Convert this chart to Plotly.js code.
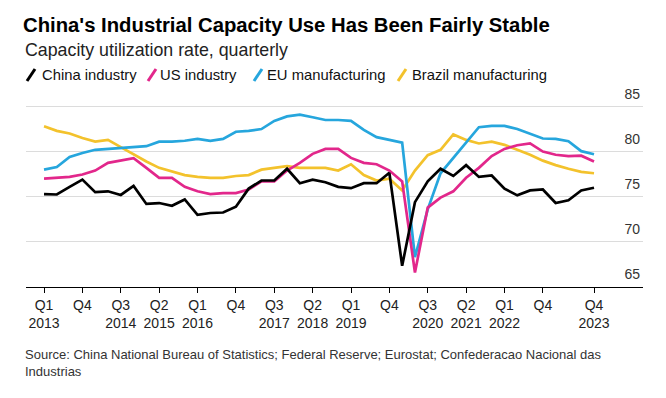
<!DOCTYPE html>
<html>
<head>
<meta charset="utf-8">
<script src="https://cdn.plot.ly/plotly-3.0.1.min.js"></script>
<style>html,body{margin:0;padding:0;background:#fff;}#chart{width:666px;height:398px;}</style>
</head>
<body>
<div id="chart"></div>
<script>
const quarters = [
  "Q1 2013","Q2 2013","Q3 2013","Q4 2013",
  "Q1 2014","Q2 2014","Q3 2014","Q4 2014",
  "Q1 2015","Q2 2015","Q3 2015","Q4 2015",
  "Q1 2016","Q2 2016","Q3 2016","Q4 2016",
  "Q1 2017","Q2 2017","Q3 2017","Q4 2017",
  "Q1 2018","Q2 2018","Q3 2018","Q4 2018",
  "Q1 2019","Q2 2019","Q3 2019","Q4 2019",
  "Q1 2020","Q2 2020","Q3 2020","Q4 2020",
  "Q1 2021","Q2 2021","Q3 2021","Q4 2021",
  "Q1 2022","Q2 2022","Q3 2022","Q4 2022",
  "Q1 2023","Q2 2023","Q3 2023","Q4 2023"
];

const chinaIndustry = [
  75.3, 75.25, 76.1, 76.9,
  75.5, 75.6, 75.2, 76.2,
  74.2, 74.3, 74.0, 74.7,
  73.0, 73.2, 73.25, 73.9,
  75.9, 76.8, 76.8, 78.1,
  76.5, 76.9, 76.6, 76.1,
  75.95, 76.5, 76.5, 77.65,
  67.35, 74.4, 76.7, 78.1,
  77.3, 78.5, 77.2, 77.35,
  75.9, 75.15, 75.7, 75.8,
  74.3, 74.6, 75.7, 76.0
];

const usIndustry = [
  77.0, 77.06, 77.2, 77.46,
  77.9, 78.75, 79.0, 79.26,
  78.2, 77.1, 77.1, 76.1,
  75.6, 75.3, 75.4, 75.4,
  75.8, 76.7, 76.7, 77.9,
  78.75, 79.75, 80.3, 80.3,
  79.3, 78.75, 78.6, 77.9,
  76.7, 66.6, 73.8, 74.9,
  75.6, 77.1, 78.2, 79.5,
  80.3, 80.7, 80.9, 80.0,
  79.65, 79.5, 79.55, 78.9
];

const euManufacturing = [
  78.0, 78.3, 79.4, 79.85,
  80.2, 80.3, 80.4, 80.5,
  80.6, 81.1, 81.1, 81.2,
  81.4, 81.2, 81.4, 82.2,
  82.3, 82.5, 83.4, 83.9,
  84.1, 83.8, 83.5, 83.5,
  83.4, 82.4, 81.6, 81.3,
  81.0, 68.3, 73.6, 77.6,
  79.3, 80.9, 82.7, 82.85,
  82.85, 82.5, 81.95, 81.45,
  81.4, 81.15, 80.05, 79.7
];

const brazilManufacturing = [
  82.8, 82.3, 82.0, 81.5,
  81.1, 81.3, 80.5, 79.7,
  78.9, 78.2, 77.8, 77.4,
  77.2, 77.1, 77.1, 77.3,
  77.4, 78.0, 78.2, 78.4,
  78.2, 78.2, 78.2, 77.9,
  78.6, 77.4, 76.8, 77.0,
  75.7, 77.9, 79.6, 80.2,
  81.9, 81.3, 80.9, 81.1,
  80.75, 80.2, 79.65, 79.0,
  78.5, 78.1, 77.75, 77.6
];

const seriesNames = ["China industry", "US industry", "EU manufacturing", "Brazil manufacturing"];
const seriesColors = ["#000000", "#e2278b", "#26a6dd", "#f3c22c"];

const tickQuarters = ["Q1 2013","Q4 2013","Q3 2014","Q2 2015","Q1 2016","Q4 2016","Q3 2017","Q2 2018","Q1 2019","Q4 2019","Q3 2020","Q2 2021","Q1 2022","Q4 2022","Q4 2023"];
const tickLabels = ["Q1<br>2013","Q4","Q3<br>2014","Q2<br>2015","Q1<br>2016","Q4","Q3<br>2017","Q2<br>2018","Q1<br>2019","Q4","Q3<br>2020","Q2<br>2021","Q1<br>2022","Q4","Q4<br>2023"];
const yTicks = [65, 70, 75, 80, 85];

const titleText = "China's Industrial Capacity Use Has Been Fairly Stable";
const subtitleText = "Capacity utilization rate, quarterly";
const sourceText = "Source: China National Bureau of Statistics; Federal Reserve; Eurostat; Confederacao Nacional das<br>Industrias";

const FONT = "Liberation Sans, Arial, Helvetica, sans-serif";

// layout geometry (pixels)
const W = 666, H = 398;
const M = {l: 26, r: 23, t: 83, b: 111};
const PW = W - M.l - M.r, PH = H - M.t - M.b;
const px = x => (x - M.l) / PW;
const py = y => (H - M.b - y) / PH;

const allSeries = [chinaIndustry, usIndustry, euManufacturing, brazilManufacturing];
const traces = allSeries.map((vals, i) => ({
  type: "scatter",
  mode: "lines",
  x: quarters,
  y: vals,
  name: seriesNames[i],
  line: {color: seriesColors[i], width: 2.7},
  hoverinfo: "skip"
})).reverse();

// legend geometry
const legendSlashX = [27, 148, 254, 398];
const legendTextX = [40, 158, 265, 410];
const legendY = 75;

const shapes = seriesNames.map((n, i) => ({
  type: "line", xref: "paper", yref: "paper",
  x0: px(legendSlashX[i]), y0: py(legendY + 6),
  x1: px(legendSlashX[i] + 8), y1: py(legendY - 6),
  line: {color: seriesColors[i], width: 3}
}));

const annotations = [
  {text: subtitleText, xref: "paper", yref: "paper", x: px(23), y: py(50), xanchor: "left", yanchor: "middle",
   showarrow: false, font: {family: FONT, size: 17.8, color: "#222"}},
  {text: sourceText, xref: "paper", yref: "paper", x: px(23), y: py(363), xanchor: "left", yanchor: "middle",
   align: "left", showarrow: false, font: {family: FONT, size: 13, color: "#333"}}
].concat(seriesNames.map((n, i) => ({
  text: n, xref: "paper", yref: "paper", x: px(legendTextX[i]), y: py(legendY), xanchor: "left", yanchor: "middle",
  showarrow: false, font: {family: FONT, size: 14.8, color: "#111"}
})));

const layout = {
  width: W, height: H,
  margin: M,
  paper_bgcolor: "#ffffff",
  plot_bgcolor: "#ffffff",
  showlegend: false,
  title: {
    text: "<b>" + titleText + "</b>",
    xref: "container", yref: "container",
    x: 23 / W, xanchor: "left",
    y: 1 - 25 / H, yanchor: "middle",
    font: {family: FONT, size: 20.3, color: "#000"}
  },
  xaxis: {
    type: "category",
    range: [-1.41, 46.83],
    tickvals: tickQuarters,
    ticktext: tickLabels,
    ticks: "outside", ticklen: 5, tickwidth: 1, tickcolor: "#000",
    showline: true, linecolor: "#000", linewidth: 1.2,
    showgrid: false, zeroline: false,
    tickfont: {family: FONT, size: 14, color: "#222"},
    fixedrange: true
  },
  yaxis: {
    side: "right",
    range: [65, 87.6],
    tickvals: yTicks,
    ticktext: yTicks.map(String),
    ticklabelposition: "inside top",
    ticklabelshift: -3,
    ticks: "",
    showgrid: true, gridcolor: "#dcdcdc", gridwidth: 1,
    zeroline: false, showline: false,
    tickfont: {family: FONT, size: 14, color: "#333"},
    fixedrange: true
  },
  shapes: shapes,
  annotations: annotations
};

Plotly.newPlot("chart", traces, layout, {displayModeBar: false, staticPlot: true});
</script>
</body>
</html>
